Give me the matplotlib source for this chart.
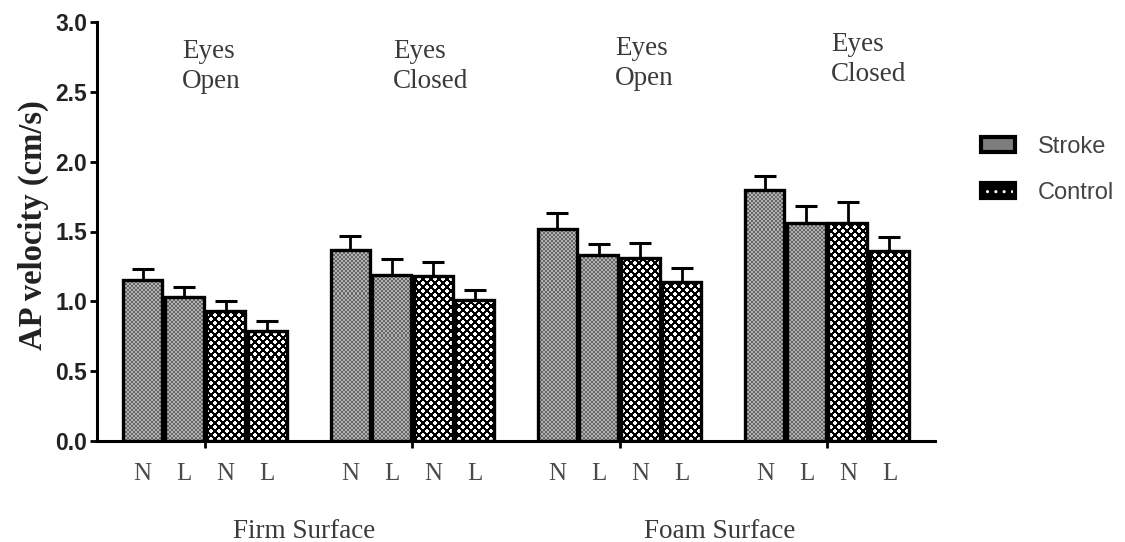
import numpy as np
import matplotlib
matplotlib.use("Agg")
import matplotlib.pyplot as plt
from matplotlib.patches import Rectangle, Patch
from matplotlib.legend_handler import HandlerPatch

# ---- data -------------------------------------------------------------
group_titles = ["Eyes\nOpen", "Eyes\nClosed", "Eyes\nOpen", "Eyes\nClosed"]
surfaces = ["Firm Surface", "Foam Surface"]
bar_labels = ["N", "L", "N", "L"]

stroke_N = [1.15, 1.37, 1.52, 1.80]
stroke_L = [1.03, 1.19, 1.33, 1.56]
control_N = [0.93, 1.18, 1.31, 1.56]
control_L = [0.79, 1.01, 1.14, 1.36]

stroke_N_err = [0.08, 0.10, 0.11, 0.10]
stroke_L_err = [0.07, 0.11, 0.08, 0.12]
control_N_err = [0.07, 0.10, 0.11, 0.15]
control_L_err = [0.07, 0.07, 0.10, 0.10]

yticks = [0.0, 0.5, 1.0, 1.5, 2.0, 2.5, 3.0]

# ---- layout -----------------------------------------------------------
W_PX, H_PX = 1125, 542
fig = plt.figure(figsize=(W_PX / 100, H_PX / 100), dpi=100)
ax_left, ax_right, ax_bottom, ax_top = 97, 935, 441, 22
ax = fig.add_axes([ax_left / W_PX, 1 - ax_bottom / H_PX,
                   (ax_right - ax_left) / W_PX, (ax_bottom - ax_top) / H_PX])

XLIM = (-1.1, 19.1)
YLIM = (0.0, 3.0)
group_step = 5
bar_w = 0.94

series = [
    ("Stroke", stroke_N, stroke_N_err, "stroke"),
    ("Stroke", stroke_L, stroke_L_err, "stroke"),
    ("Control", control_N, control_N_err, "control"),
    ("Control", control_L, control_L_err, "control"),
]

# pixel textures covering the whole plotting area (one texel per screen pixel)
tex_w = int(round(ax_right - ax_left))
tex_h = int(round(ax_bottom - ax_top))
yy, xx = np.mgrid[0:tex_h, 0:tex_w]

fine = ((xx // 2 + yy // 2) % 2).astype(float)
stroke_tex = np.where(fine[..., None] > 0, 0.70, 0.40) * np.ones(3)

corner = np.isin(xx % 4, (0, 3)) & np.isin(yy % 4, (0, 3))
dots = ((xx // 4 + yy // 4) % 2 == 0) & ~corner
control_tex = np.where(dots[..., None], 1.0, 0.0) * np.ones(3)
textures = {"stroke": stroke_tex, "control": control_tex}

edge_lw = 2.4
for k, (name, vals, errs, kind) in enumerate(series):
    xs = np.arange(len(vals)) * group_step + k
    vals = np.asarray(vals)
    errs = np.asarray(errs)
    ax.errorbar(xs, vals, yerr=[np.zeros_like(errs), errs], fmt="none",
                ecolor="black", elinewidth=2.0, capsize=8, capthick=2.2,
                zorder=1.5)
    bars = ax.bar(xs, vals, width=bar_w, facecolor="none",
                  edgecolor="black", linewidth=edge_lw, zorder=3)
    for rect in bars:
        im = ax.imshow(textures[kind], extent=[*XLIM, *YLIM], aspect="auto",
                       interpolation="nearest", origin="lower", zorder=2)
        im.set_clip_path(rect)

ax.set_xlim(*XLIM)
ax.set_ylim(*YLIM)

# ---- axes styling -----------------------------------------------------
for side in ("top", "right"):
    ax.spines[side].set_visible(False)
for side in ("left", "bottom"):
    ax.spines[side].set_linewidth(2.2)
    ax.spines[side].set_color("black")

group_centers = np.arange(len(group_titles)) * group_step + 1.5
ax.set_xticks(group_centers)
ax.set_xticklabels([])
ax.set_yticks(yticks)
ax.set_yticklabels([f"{t:.1f}" for t in yticks],
                   fontfamily="Liberation Sans", fontweight="bold",
                   fontsize=16.5, color="#222222")
ax.tick_params(axis="both", direction="out", length=5, width=2.0,
               color="black")
ax.tick_params(axis="y", pad=2)

fig.text(33 / W_PX, 1 - 225 / H_PX, "AP velocity (cm/s)", rotation=90,
         ha="center", va="center", fontfamily="Liberation Serif",
         fontweight="bold", fontsize=23.5, color="#222222")

# condition labels under each bar
serif = "Liberation Serif"
for g in range(len(group_titles)):
    for k, lab in enumerate(bar_labels):
        ax.text(g * group_step + k, -0.28, lab, ha="center", va="baseline",
                fontfamily=serif, fontsize=18, color="#4a4a4a",
                clip_on=False)

# group titles above the bars
title_x = [0.95, 1.04, 1.39, 1.60]
title_y = [2.742, 2.742, 2.763, 2.79]
for g, title in enumerate(group_titles):
    for j, line in enumerate(title.split("\n")):
        ax.text(g * group_step + title_x[g], title_y[g] - j * 0.215, line,
                ha="left", va="baseline", fontfamily=serif, fontsize=19.5,
                color="#3a3a3a")

# surface labels
for s, name in enumerate(surfaces):
    cx = (group_centers[2 * s] + group_centers[2 * s + 1]) / 2 - 0.1
    ax.text(cx, -0.695, name, ha="center", va="baseline", fontfamily=serif,
            fontsize=19.5, color="#3a3a3a", clip_on=False)


# ---- legend -----------------------------------------------------------
class SwatchHandler(HandlerPatch):
    def create_artists(self, legend, orig_handle, xdescent, ydescent,
                       width, height, fontsize, trans):
        x0, y0 = -xdescent, -ydescent
        base = Rectangle((x0, y0), width, height,
                         facecolor=orig_handle.get_facecolor(),
                         edgecolor="none", transform=trans)
        out = [base]
        if orig_handle.get_hatch():
            out.append(Rectangle((x0, y0), width, height, facecolor="none",
                                 edgecolor="white", linewidth=0,
                                 hatch=orig_handle.get_hatch(),
                                 transform=trans))
        out.append(Rectangle((x0, y0), width, height, facecolor="none",
                             edgecolor="black", linewidth=3.0,
                             transform=trans))
        return out


handles = [Patch(facecolor="#7d7d7d", label="Stroke"),
           Patch(facecolor="black", hatch="..", label="Control")]
leg = fig.legend(handles=handles, loc="upper left",
                 bbox_to_anchor=(981 / W_PX, 1 - 136 / H_PX),
                 frameon=False, borderpad=0, borderaxespad=0,
                 handlelength=1.45, handleheight=0.6, handletextpad=0.95,
                 labelspacing=1.0,
                 prop={"family": "Liberation Sans", "size": 17},
                 handler_map={Patch: SwatchHandler()})
for t in leg.get_texts():
    t.set_color("#444444")

fig.savefig("out.png", dpi=100)
